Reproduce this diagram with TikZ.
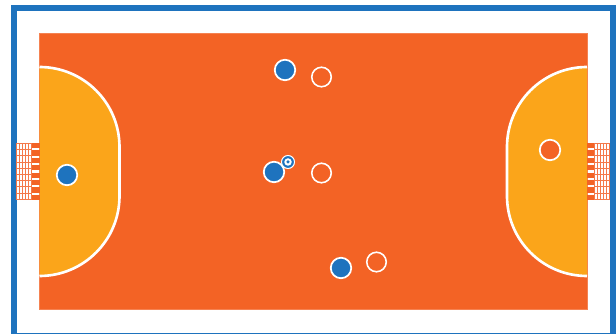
\documentclass[tikz,border=0pt]{standalone}
\usepackage{xcolor}
\usepackage{tikz}
\usetikzlibrary{positioning}
\definecolor{frameblue}{RGB}{30, 115, 190}
\definecolor{courtorange}{RGB}{243, 99, 37}
\definecolor{areayellow}{RGB}{251, 165, 26}
\definecolor{netorange}{RGB}{244, 130, 90}
\tikzset{
    bluepl/.style={circle, draw=white, fill=frameblue, line width=1pt, minimum size=0.41cm, inner sep=0pt},
    openpl/.style={circle, draw=white, line width=0.9pt, minimum size=0.39cm, inner sep=0pt},
    orangepl/.style={circle, draw=white, fill=courtorange, line width=1pt, minimum size=0.41cm, inner sep=0pt},
    arealine/.style={draw=white, fill=areayellow, line width=1.5pt}
}
\begin{document}
\begin{tikzpicture}[x=0.02cm, y=-0.02cm]
        \useasboundingbox (0,0) rectangle (616,334);
        \fill[white] (0,0) rectangle (616,334);

        % Frame
        \draw[frameblue, line width=0.12cm, line join=miter] (14,336) -- (14,8) -- (613,8) -- (613,336);
        \draw[frameblue, line width=0.03cm] (14,333.6) -- (613,333.6);

        % Court
        \fill[courtorange, draw=courtorange!80!white, line width=0.2pt] (39.5,33.5) rectangle (587,309);

        % Areas
        \draw[arealine] (39.5,67) arc[start angle=-90, end angle=0, radius=80] -- (119.5,196) arc[start angle=0, end angle=90, radius=80];
        \draw[arealine] (587,67) arc[start angle=-90, end angle=-180, radius=80] -- (507,196) arc[start angle=180, end angle=90, radius=80];

        % Goals
        \foreach \y in {0,...,7} {
            \fill[courtorange] (32,143+7.4*\y) rectangle (39.5,148.2+7.4*\y);
            \fill[courtorange] (587,143+7.4*\y) rectangle (594,148.2+7.4*\y);
        }
        \foreach \y in {0,...,9} {
            \draw[netorange!70!courtorange, line width=0.02cm] (16,143.5+6.2*\y) -- (32,143.5+6.2*\y);
            \draw[netorange!70!courtorange, line width=0.02cm] (594,143.5+6.2*\y) -- (610,143.5+6.2*\y);
        }
        \foreach \x in {0,...,5} {
            \draw[netorange!70!courtorange, line width=0.02cm] (16.5+3*\x,143.5) -- (16.5+3*\x,199.5);
            \draw[netorange!70!courtorange, line width=0.02cm] (594.5+3*\x,143.5) -- (594.5+3*\x,199.5);
        }

        % Players
        \node[bluepl] (keeperblue) at (67,175) {};
        \node[bluepl] (playera) at (285,70) {};
        \node[bluepl] (playerb) at (274,172) {};
        \node[bluepl] (playerc) at (341,268) {};
        \node[orangepl] (keeperorange) at (550,150) {};
        \node[openpl] (opena) at (321.5,77) {};
        \node[openpl] (openb) at (321.5,173) {};
        \node[openpl] (openc) at (376.5,262) {};

        % Ball
        \node[circle, draw=white, fill=frameblue, line width=0.6pt, minimum size=0.26cm, inner sep=0pt] (ball) at (288,162) {};
        \node[circle, fill=white, minimum size=0.15cm, inner sep=0pt] (ballin) at (ball.center) {};
        \node[circle, fill=frameblue, minimum size=0.07cm, inner sep=0pt] (ballmid) at (ball.center) {};
    \end{tikzpicture}
\end{document}
